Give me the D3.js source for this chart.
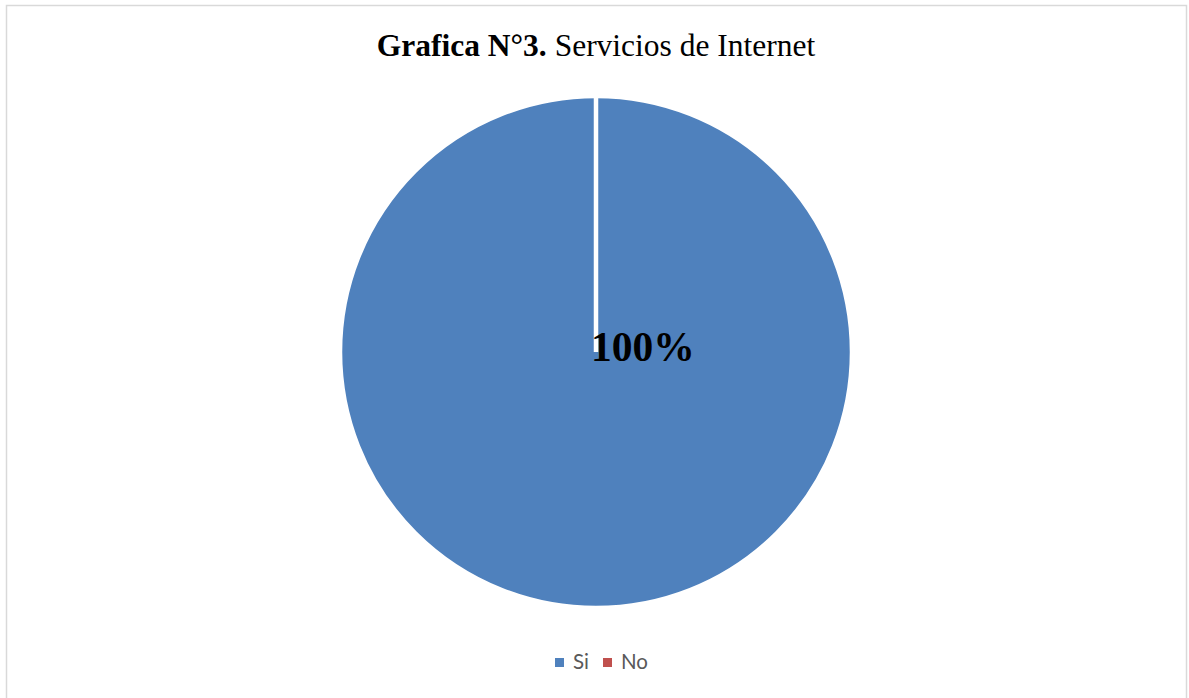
<!DOCTYPE html>
<html>
<head>
<meta charset="utf-8">
<script src="https://cdn.jsdelivr.net/npm/d3@7"></script>
<style>
  body { margin: 0; background: #fff; }
</style>
</head>
<body>
<svg id="chart" width="1189" height="698"></svg>
<script>
var categories = ["Si", "No"];
var values = [100, 0];
var labels = ["100%", ""];
var colors = ["#4F81BD", "#C0504D"];

var svg = d3.select("#chart"),
    cx = 596, cy = 352, radius = 256;

// chart frame
svg.append("rect")
  .attr("x", 6.5).attr("y", 5.5)
  .attr("width", 1180).attr("height", 710)
  .attr("fill", "#fff")
  .attr("stroke", "#d9d9d9")
  .attr("stroke-width", 1.5);

// title
var title = svg.append("text")
  .attr("x", 596)
  .attr("y", 56)
  .attr("text-anchor", "middle")
  .style("font-family", "'Liberation Serif', 'Times New Roman', serif")
  .style("font-size", "31.5px")
  .attr("fill", "#000");
title.append("tspan").style("font-weight", "bold").text("Grafica N°3.");
title.append("tspan").text(" Servicios de Internet");

var data = categories.map(function (c, i) {
  return {name: c, value: values[i], label: labels[i]};
});

var pie = d3.pie()
  .sort(null)
  .value(function (d) { return d.value; });

var arc = d3.arc()
  .innerRadius(0)
  .outerRadius(radius);

var g = svg.append("g")
  .attr("transform", "translate(" + cx + "," + cy + ")");

g.selectAll(".slice")
  .data(pie(data))
  .enter().append("path")
  .attr("class", "slice")
  .attr("d", arc)
  .attr("fill", function (d, i) { return colors[i]; })
  .attr("stroke", "#fff")
  .attr("stroke-width", 4.5)
  .attr("stroke-linejoin", "miter");

// data label
g.selectAll(".lbl")
  .data(pie(data).filter(function (d) { return d.data.value > 0; }))
  .enter().append("text")
  .attr("class", "lbl")
  .attr("x", -5)
  .attr("y", 9)
  .style("font-family", "'Liberation Serif', 'Times New Roman', serif")
  .style("font-size", "41.5px")
  .style("font-weight", "bold")
  .attr("fill", "#000")
  .text(function (d) { return d.data.label; });

// legend
var legend = svg.append("g")
  .attr("transform", "translate(555,662)");

var xs = [0, 48];
var items = legend.selectAll(".item")
  .data(categories)
  .enter().append("g")
  .attr("class", "item")
  .attr("transform", function (d, i) { return "translate(" + xs[i] + ",0)"; });

items.append("rect")
  .attr("x", 0).attr("y", -4)
  .attr("width", 9).attr("height", 9)
  .attr("fill", function (d, i) { return colors[i]; });

items.append("text")
  .attr("x", 18)
  .attr("y", 7)
  .style("font-family", "Lato, 'Open Sans', sans-serif")
  .style("font-size", "20.5px")
  .attr("fill", "#595959")
  .text(function (d) { return d; });
</script>
</body>
</html>
